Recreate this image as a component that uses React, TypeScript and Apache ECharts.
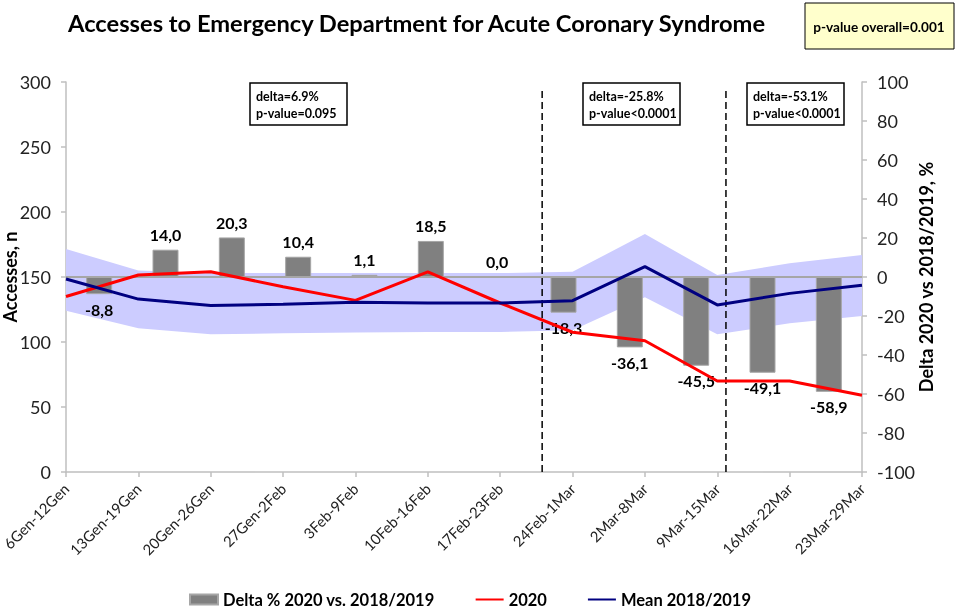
import React, { useEffect, useRef } from "react";
import * as echarts from "echarts";

const weeks = [
  "6Gen-12Gen", "13Gen-19Gen", "20Gen-26Gen", "27Gen-2Feb", "3Feb-9Feb", "10Feb-16Feb",
  "17Feb-23Feb", "24Feb-1Mar", "2Mar-8Mar", "9Mar-15Mar", "16Mar-22Mar", "23Mar-29Mar",
];
const deltaPct = [-8.8, 14.0, 20.3, 10.4, 1.1, 18.5, 0.0, -18.3, -36.1, -45.5, -49.1, -58.9];
const accesses2020 = [135, 151.5, 154, 142.5, 132, 154, 130, 107.5, 101, 70, 70, 59];
const mean1819 = [148.5, 133, 128, 129, 130.5, 130, 130, 131.8, 158, 128.5, 137.4, 143.6];
const bandUpper = [171.5, 155, 153, 153, 153, 153, 153, 154, 183, 151.5, 160.5, 167];
const bandLower = [124, 110.5, 106, 106.7, 107.4, 107.7, 107.7, 109, 134.4, 106, 114.4, 120];
const periodBreaks = [6.58, 9.12];
const periodDelta = ["delta=6.9%", "delta=-25.8%", "delta=-53.1%"];
const periodP = ["p-value=0.095", "p-value<0.0001", "p-value<0.0001"];
const overallP = "p-value overall=0.001";

const FONT = "Lato, 'Open Sans', sans-serif";

export default function App() {
  const ref = useRef<HTMLDivElement>(null);
  useEffect(() => {
    if (!ref.current) return;
    const chart = echarts.init(ref.current, undefined, { renderer: "svg" });
    const boxX = [250, 583, 747];
    const graphics: any[] = [];
    boxX.forEach((bx, i) => {
      graphics.push({
        type: "rect",
        shape: { x: bx, y: 83, width: 97, height: 42 },
        style: { fill: "#fff", stroke: "#000", lineWidth: 1.5 },
        z: 10,
      });
      graphics.push({
        type: "text",
        x: bx + 6, y: 96,
        style: { text: periodDelta[i], font: `bold 12.5px ${FONT}`, fill: "#000", verticalAlign: "middle" },
        z: 11,
      });
      graphics.push({
        type: "text",
        x: bx + 6, y: 113,
        style: { text: periodP[i], font: `bold 12.5px ${FONT}`, fill: "#000", verticalAlign: "middle" },
        z: 11,
      });
    });
    graphics.push({
      type: "rect",
      shape: { x: 805, y: 3, width: 149, height: 46 },
      style: { fill: "#FFFFCC", stroke: "#000", lineWidth: 1 },
      z: 10,
    });
    graphics.push({
      type: "text",
      x: 879, y: 27,
      style: { text: overallP, font: `bold 13.6px ${FONT}`, fill: "#000", align: "center", verticalAlign: "middle" },
      z: 11,
    });

    const fmt = (v: number) => v.toFixed(1).replace(".", ",");

    chart.setOption({
      animation: false,
      textStyle: { fontFamily: FONT },
      title: {
        text: "Accesses to Emergency Department for Acute Coronary Syndrome",
        left: 63, top: 6,
        textStyle: { fontFamily: FONT, fontSize: 23.7, fontWeight: "bold", color: "#000" },
      },
      graphic: graphics,
      legend: {
        top: 586,
        left: 184,
        itemGap: 40,
        itemWidth: 28,
        itemHeight: 10,
        textStyle: { fontFamily: FONT, fontSize: 16.5, lineHeight: 17, fontWeight: "bold", color: "#000" },
        data: [
          { name: "Delta % 2020 vs. 2018/2019", icon: "rect", itemStyle: { color: "#808080" } },
          { name: "2020", itemStyle: { opacity: 0 } },
          { name: "Mean 2018/2019", itemStyle: { opacity: 0 } },
        ],
      },
      grid: { left: 66, right: 95, top: 82, bottom: 137, outerBoundsMode: "none", containLabel: false },
      xAxis: [
        {
          type: "category",
          data: weeks,
          boundaryGap: false,
          axisLine: { lineStyle: { color: "#BFBFBF", width: 1.5 } },
          axisTick: { length: 5, lineStyle: { color: "#BFBFBF", width: 1.5 } },
          axisLabel: { rotate: 45, fontSize: 14.8, color: "#222", fontFamily: FONT, margin: 14 },
        },
        { type: "category", data: weeks, boundaryGap: true, show: false },
        { type: "value", min: 0, max: weeks.length - 1, show: false },
      ],
      yAxis: [
        {
          type: "value", min: 0, max: 300, interval: 50,
          name: "Accesses, n", nameLocation: "middle", nameRotate: 90, nameGap: 47,
          nameMoveOverlap: false,
          nameTextStyle: { fontSize: 18, fontWeight: "bold", color: "#000", fontFamily: FONT },
          axisLine: { show: true, lineStyle: { color: "#BFBFBF", width: 1.5 } },
          axisTick: { show: true, length: 5, lineStyle: { color: "#BFBFBF", width: 1.5 } },
          axisLabel: { fontSize: 18, color: "#222", fontFamily: FONT, margin: 15 },
          splitLine: { show: false },
        },
        {
          type: "value", min: -100, max: 100, interval: 20, position: "right",
          name: "Delta 2020 vs 2018/2019, %", nameLocation: "middle", nameRotate: 90, nameGap: 55,
          nameMoveOverlap: false,
          nameTextStyle: { fontSize: 18, fontWeight: "bold", color: "#000", fontFamily: FONT },
          axisLine: { show: true, lineStyle: { color: "#BFBFBF", width: 1.5 } },
          axisTick: { show: true, length: 5, lineStyle: { color: "#BFBFBF", width: 1.5 } },
          axisLabel: { fontSize: 18, color: "#222", fontFamily: FONT, margin: 15 },
          splitLine: { show: false },
        },
      ],
      series: [
        {
          name: "bandLower", type: "line", stack: "band", xAxisIndex: 0, yAxisIndex: 0,
          data: bandLower, symbol: "none", lineStyle: { opacity: 0 }, silent: true, z: 1,
        },
        {
          name: "bandRange", type: "line", stack: "band", xAxisIndex: 0, yAxisIndex: 0,
          data: bandUpper.map((u, i) => +(u - bandLower[i]).toFixed(2)),
          symbol: "none", lineStyle: { opacity: 0 }, areaStyle: { color: "#CCCCFF", opacity: 1 },
          silent: true, z: 1,
        },
        {
          name: "Delta % 2020 vs. 2018/2019", type: "bar", xAxisIndex: 1, yAxisIndex: 1,
          data: deltaPct.map((v) => ({
            value: v,
            label: { position: v < 0 ? "bottom" : "top" },
          })),
          barWidth: 26,
          itemStyle: { color: "#808080", borderColor: "#A6A6A6", borderWidth: 1 },
          label: {
            show: true, distance: 7, fontSize: 16, fontWeight: "bold", color: "#000", fontFamily: FONT,
            formatter: (p: any) => fmt(p.value),
          },
          markLine: {
            silent: true, symbol: "none", label: { show: false },
            lineStyle: { color: "#A6A6A6", width: 2, type: "solid" },
            data: [{ yAxis: 0 }],
          },
          z: 3,
        },
        {
          name: "2020", type: "line", xAxisIndex: 0, yAxisIndex: 0, data: accesses2020,
          symbol: "none", color: "#FF0000", lineStyle: { color: "#FF0000", width: 3 }, z: 5,
        },
        {
          name: "Mean 2018/2019", type: "line", xAxisIndex: 0, yAxisIndex: 0, data: mean1819,
          symbol: "none", color: "#000080", lineStyle: { color: "#000080", width: 3 }, z: 5,
        },
        ...periodBreaks.map((b, i) => ({
          name: "break" + i, type: "line", xAxisIndex: 2, yAxisIndex: 0,
          data: [[b, 0], [b, 296]], symbol: "none", silent: true,
          lineStyle: { color: "#000", width: 1.5, type: [7, 4] }, z: 4,
        })),
      ],
    });
    return () => chart.dispose();
  }, []);
  return (
    <div
      ref={ref}
      style={{ position: "fixed", left: 0, top: 0, width: 957, height: 609 }}
    />
  );
}
